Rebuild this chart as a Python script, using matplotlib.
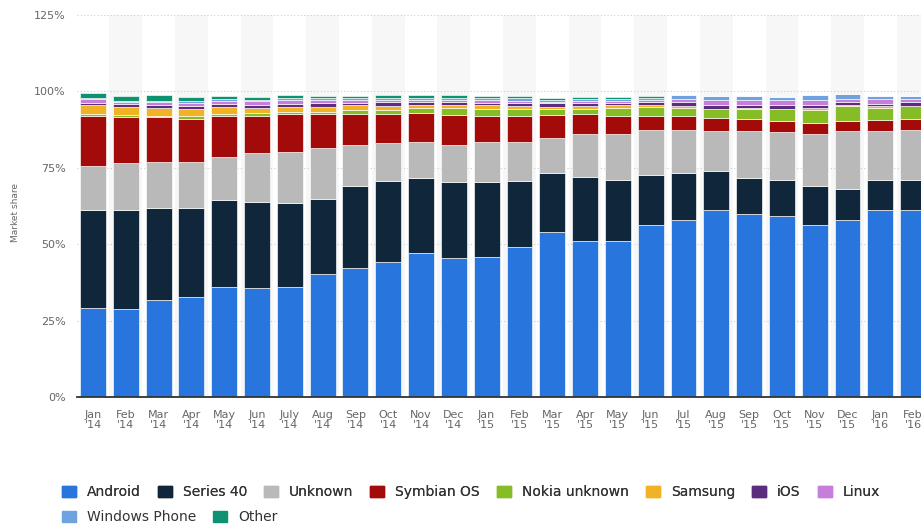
import numpy as np
import matplotlib.pyplot as plt
from matplotlib.patches import Patch

months = ["Jan\n'14", "Feb\n'14", "Mar\n'14", "Apr\n'14", "May\n'14", "Jun\n'14",
          "July\n'14", "Aug\n'14", "Sep\n'14", "Oct\n'14", "Nov\n'14", "Dec\n'14",
          "Jan\n'15", "Feb\n'15", "Mar\n'15", "Apr\n'15", "May\n'15", "Jun\n'15",
          "Jul\n'15", "Aug\n'15", "Sep\n'15", "Oct\n'15", "Nov\n'15", "Dec\n'15",
          "Jan\n'16", "Feb\n'16"]

android = [29.2, 28.9, 31.8, 32.8, 36.1, 35.7, 36.1, 40.3, 42.3, 44.3, 47.2, 45.6, 45.9,
           49.2, 54.1, 51.1, 51.1, 56.4, 58.0, 61.3, 60.0, 59.3, 56.4, 58.0, 61.3, 61.3]
series40 = [32.1, 32.4, 30.2, 29.2, 28.2, 28.2, 27.5, 24.6, 26.9, 26.5, 24.6, 24.9, 24.6,
            21.6, 19.3, 21.0, 20.0, 16.4, 15.4, 12.5, 11.5, 11.8, 12.5, 10.2, 9.8, 9.8]
unknown = [14.4, 15.4, 15.0, 15.0, 14.1, 15.8, 16.7, 16.7, 13.4, 12.2, 11.8, 12.1, 12.8,
           12.8, 11.2, 14.1, 15.1, 14.7, 14.1, 13.4, 15.7, 15.5, 17.3, 18.7, 16.1, 16.4]
symbian = [16.1, 14.8, 14.5, 14.0, 13.4, 12.1, 12.4, 11.1, 10.1, 9.7, 9.4, 9.7, 8.5,
           8.2, 7.7, 6.5, 5.7, 4.6, 4.3, 4.2, 3.8, 3.6, 3.5, 3.3, 3.5, 3.5]
nokia_unknown = [0.9, 0.7, 0.6, 1.1, 0.7, 1.1, 0.6, 0.7, 1.3, 1.1, 1.5, 2.2, 2.5,
                 2.5, 1.9, 1.7, 2.6, 2.7, 2.9, 2.9, 3.4, 4.0, 4.3, 5.1, 3.9, 4.2]
samsung = [2.7, 2.6, 2.5, 2.2, 2.3, 1.8, 1.5, 1.5, 1.4, 1.5, 1.0, 1.0, 1.1,
           1.0, 0.7, 0.9, 0.9, 0.7, 0.6, 0.1, 0.1, 0.1, 0.7, 0.1, 0.6, 0.1]
ios = [0.9, 1.0, 1.0, 0.9, 1.0, 1.0, 1.0, 1.2, 0.9, 1.2, 0.9, 0.9, 0.9,
       0.9, 1.2, 0.8, 0.9, 0.9, 1.2, 1.1, 1.1, 1.1, 0.8, 1.2, 0.8, 1.1]
linux = [1.1, 0.6, 0.9, 1.0, 1.0, 1.0, 1.3, 1.0, 0.8, 0.8, 0.9, 0.8, 0.8,
         0.5, 0.5, 0.9, 0.5, 0.9, 1.1, 1.7, 1.7, 1.7, 1.6, 0.8, 1.4, 1.0]
windows_phone = [0.6, 0.5, 0.5, 0.6, 0.6, 0.6, 0.6, 0.6, 0.6, 0.5, 0.6, 0.6, 0.6,
                 1.0, 0.6, 0.6, 0.8, 0.6, 1.2, 1.2, 1.2, 1.2, 1.6, 1.6, 1.2, 1.2]
other = [1.5, 1.7, 1.7, 1.3, 1.0, 1.0, 1.0, 0.9, 0.9, 0.9, 0.9, 0.9, 0.9,
         0.9, 0.5, 0.6, 0.5, 0.6, 0, 0, 0, 0, 0, 0, 0, 0]

series = [
    ("Android", android, "#2876dd"),
    ("Series 40", series40, "#10263b"),
    ("Unknown", unknown, "#b9b9b9"),
    ("Symbian OS", symbian, "#a30b0b"),
    ("Nokia unknown", nokia_unknown, "#86bc25"),
    ("Samsung", samsung, "#f0b323"),
    ("iOS", ios, "#5c2d7e"),
    ("Linux", linux, "#c77ddb"),
    ("Windows Phone", windows_phone, "#6fa3e0"),
    ("Other", other, "#0f9272"),
]

plt.rcParams['font.family'] = ['DejaVu Sans']

fig = plt.figure(figsize=(9.21, 5.26), dpi=100)
ax = fig.add_axes([76.6 / 921, 129 / 526, 1 - 76.6 / 921, 382 / 526])

x = np.arange(len(months))

# alternating column bands
for i in x[1::2]:
    ax.axvspan(i - 0.5, i + 0.5, color="#f7f7f7", zorder=0, lw=0)

ax.set_axisbelow(True)
ax.yaxis.grid(True, linestyle=(0, (1, 2)), color="#cccccc", linewidth=0.8)

bottom = np.zeros(len(months))
for name, vals, color in series:
    vals = np.array(vals, dtype=float)
    ax.bar(x, vals, width=0.79, bottom=bottom, color=color, edgecolor="white",
           linewidth=0.45, zorder=2)
    bottom += vals

ax.set_xlim(-0.5, 25.24)
ax.set_ylim(0, 125)
ax.set_yticks([0, 25, 50, 75, 100, 125])
ax.set_yticklabels(["0%", "25%", "50%", "75%", "100%", "125%"])
ax.set_xticks(x)
ax.set_xticklabels(months, linespacing=1.05)
ax.tick_params(axis="y", length=0, pad=8, labelsize=8, labelcolor="#666666")
ax.tick_params(axis="x", length=0, pad=9, labelsize=8, labelcolor="#666666")

for s in ["top", "right", "left"]:
    ax.spines[s].set_visible(False)
ax.spines["bottom"].set_color("#333333")
ax.spines["bottom"].set_linewidth(1.3)
ax.spines["bottom"].set_zorder(3)

fig.text(15 / 921, 1 - 212 / 526, "Market share", rotation=90, ha="center",
         va="center", fontsize=6.5, color="#666666")

handles = [Patch(facecolor=c, edgecolor=c, label=n) for n, _, c in series]
leg_kw = dict(frameon=False, fontsize=10, handlelength=1.0, handleheight=0.85,
              handletextpad=0.8, columnspacing=1.22, borderaxespad=0, borderpad=0,
              labelcolor="#333333", loc="center left")
leg1 = fig.legend(handles=handles[:8], ncol=8, bbox_to_anchor=(62 / 921, 1 - 492 / 526), **leg_kw)
fig.add_artist(leg1)
fig.legend(handles=handles[8:], ncol=2, bbox_to_anchor=(62 / 921, 1 - 517 / 526), **leg_kw)

fig.savefig("out.png", dpi=100)
